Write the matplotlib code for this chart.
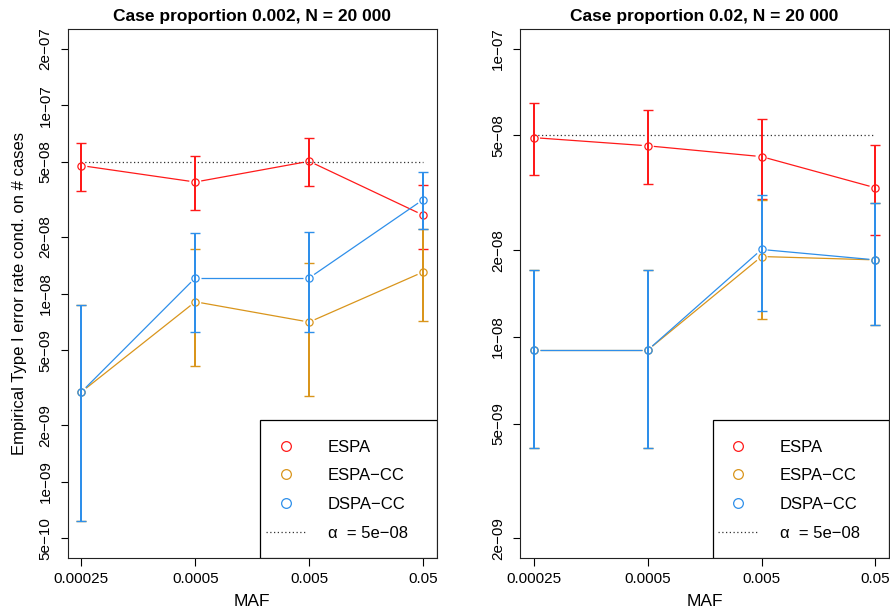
import numpy as np
import matplotlib
matplotlib.use("Agg")
import matplotlib.pyplot as plt
from matplotlib.lines import Line2D
from matplotlib.patches import Rectangle

plt.rcParams['font.family'] = ['Liberation Sans', 'DejaVu Sans']

# x axis categories
maf_labels = ["0.00025", "0.0005", "0.005", "0.05"]
methods = ["ESPA", "ESPA\u2212CC", "DSPA\u2212CC"]
colors = ["#FF1A1A", "#D9951C", "#2E8FEA"]
alpha_level = 5e-08

# case proportion 0.002
left_espa = [4.78e-8, 3.91e-8, 5.04e-8, 2.61e-8]
left_espa_lo = [3.52e-8, 2.78e-8, 3.74e-8, 1.73e-8]
left_espa_hi = [6.32e-8, 5.36e-8, 6.67e-8, 3.76e-8]
left_espacc = [3.0e-9, 9.04e-9, 7.05e-9, 1.30e-8]
left_espacc_lo = [6.17e-10, 4.13e-9, 2.84e-9, 7.16e-9]
left_espacc_hi = [8.7e-9, 1.72e-8, 1.455e-8, 2.19e-8]
left_dspacc = [3.0e-9, 1.21e-8, 1.21e-8, 3.15e-8]
left_dspacc_lo = [6.17e-10, 6.24e-9, 6.24e-9, 2.19e-8]
left_dspacc_hi = [8.7e-9, 2.10e-8, 2.12e-8, 4.41e-8]

# case proportion 0.02
right_espa = [4.91e-8, 4.60e-8, 4.22e-8, 3.29e-8]
right_espa_lo = [3.63e-8, 3.38e-8, 3.01e-8, 2.25e-8]
right_espa_hi = [6.48e-8, 6.14e-8, 5.72e-8, 4.63e-8]
right_espacc = [9.0e-9, 9.0e-9, 1.90e-8, 1.85e-8]
right_espacc_lo = [4.12e-9, 4.12e-9, 1.15e-8, 1.10e-8]
right_espacc_hi = [1.71e-8, 1.71e-8, 2.99e-8, 2.92e-8]
right_dspacc = [9.0e-9, 9.0e-9, 2.01e-8, 1.85e-8]
right_dspacc_lo = [4.12e-9, 4.12e-9, 1.23e-8, 1.10e-8]
right_dspacc_hi = [1.71e-8, 1.71e-8, 3.10e-8, 2.92e-8]

left_yticks = [2e-07, 1e-07, 5e-08, 2e-08, 1e-08, 5e-09, 2e-09, 1e-09, 5e-10]
right_yticks = [1e-07, 5e-08, 2e-08, 1e-08, 5e-09, 2e-09]
left_ylim = (5e-10, 2e-07)
right_ylim = (2e-09, 1e-07)


def fmt_tick(v):
    s = "%.0e" % v
    return s.replace("-", "\u2212")


def gapped_line(ax, x, y, color, gap=6.0):
    # R type="b": lines stop short of the points
    pts = ax.transData.transform(np.column_stack([x, y]))
    inv = ax.transData.inverted()
    for p0, p1 in zip(pts[:-1], pts[1:]):
        d = p1 - p0
        L = np.hypot(*d)
        if L <= 2 * gap:
            continue
        u = d / L
        a = inv.transform(p0 + u * gap)
        b = inv.transform(p1 - u * gap)
        ax.plot([a[0], b[0]], [a[1], b[1]], color=color, lw=0.9,
                solid_capstyle='butt', zorder=2)


def panel(ax, series, yticks, ylim, title, ylabel=None):
    x = np.arange(1, len(maf_labels) + 1)
    ax.set_yscale('log')
    lo_l, hi_l = np.log10(ylim)
    pad = (hi_l - lo_l) * 0.04
    ax.set_ylim(10 ** (lo_l - pad), 10 ** (hi_l + pad))
    ax.set_xlim(1 - 0.12, len(x) + 0.12)

    ax.plot([x[0], x[-1]], [alpha_level, alpha_level], color='#333333',
            lw=0.9, linestyle=(0, (1, 2)), zorder=1)

    for (vals, lo, hi), col in zip(series, colors):
        gapped_line(ax, x, vals, col)
        # error bars: 2 px snapped lines so overlapping bars stay crisp
        for xi, l, h in zip(x, lo, hi):
            ax.plot([xi, xi], [l, h], color=col, lw=1.44, snap=True,
                    solid_capstyle='butt', zorder=3)
        ax.plot(x, lo, linestyle='none', marker='_', ms=7.3, mew=1.0,
                color=col, zorder=3)
        ax.plot(x, hi, linestyle='none', marker='_', ms=7.3, mew=1.0,
                color=col, zorder=3)
        ax.plot(x, vals, linestyle='none', marker='o', mfc='none', mec=col,
                ms=5.2, mew=0.9, zorder=3)

    ax.set_yticks(yticks)
    ax.set_yticklabels([fmt_tick(v) for v in yticks])
    ax.yaxis.set_minor_locator(matplotlib.ticker.NullLocator())
    plt.setp(ax.get_yticklabels(), rotation=90, va='center')
    ax.set_xticks(x)
    ax.set_xticklabels(maf_labels)
    ax.tick_params(axis='y', length=5.4, width=0.8, pad=5.5, labelsize=11)
    ax.tick_params(axis='x', length=5.4, width=0.8, pad=4.5, labelsize=11)
    for sp in ax.spines.values():
        sp.set_linewidth(0.8)
        sp.set_color('#222222')

    ax.set_title(title, fontsize=12.5, fontweight='bold', pad=6)
    ax.set_xlabel("MAF", fontsize=12.5)
    ax.xaxis.label.set_va('center')
    ax.xaxis.set_label_coords(0.5, -0.083)
    if ylabel:
        ax.set_ylabel(ylabel, fontsize=12)
        ax.yaxis.label.set_va('center')
        ax.yaxis.set_label_coords(-0.1295, 0.5)

    # legend box in lower right
    box = Rectangle((0.522, 0.0), 0.478, 0.2603, transform=ax.transAxes,
                    facecolor='white', edgecolor='black', lw=0.9, zorder=5)
    ax.add_patch(box)
    handles = [Line2D([], [], marker='o', linestyle='none', color=c, mfc='none',
                      mec=c, ms=7, mew=0.9) for c in colors]
    handles.append(Line2D([], [], color='#333333', lw=0.9, linestyle=(0, (1, 2))))
    labels = methods + ["\u03b1  = 5e\u221208"]
    leg = ax.legend(handles, labels, loc='upper left',
                    bbox_to_anchor=(0.5374, 0.224), frameon=False,
                    borderpad=0, handlelength=2.4, handletextpad=1.3,
                    labelspacing=0.82, fontsize=12, borderaxespad=0)
    leg.set_zorder(6)


fig = plt.figure(figsize=(8.9, 6.13), dpi=100)
ax1 = fig.add_axes([0.0761, 0.0897, 0.4146, 0.863])
ax2 = fig.add_axes([0.5846, 0.0897, 0.4143, 0.863])

panel(ax1,
      [(left_espa, left_espa_lo, left_espa_hi),
       (left_espacc, left_espacc_lo, left_espacc_hi),
       (left_dspacc, left_dspacc_lo, left_dspacc_hi)],
      left_yticks, left_ylim, "Case proportion 0.002, N = 20 000",
      ylabel="Empirical Type I error rate cond. on # cases")
panel(ax2,
      [(right_espa, right_espa_lo, right_espa_hi),
       (right_espacc, right_espacc_lo, right_espacc_hi),
       (right_dspacc, right_dspacc_lo, right_dspacc_hi)],
      right_yticks, right_ylim, "Case proportion 0.02, N = 20 000")

fig.savefig("out.png", dpi=100)
